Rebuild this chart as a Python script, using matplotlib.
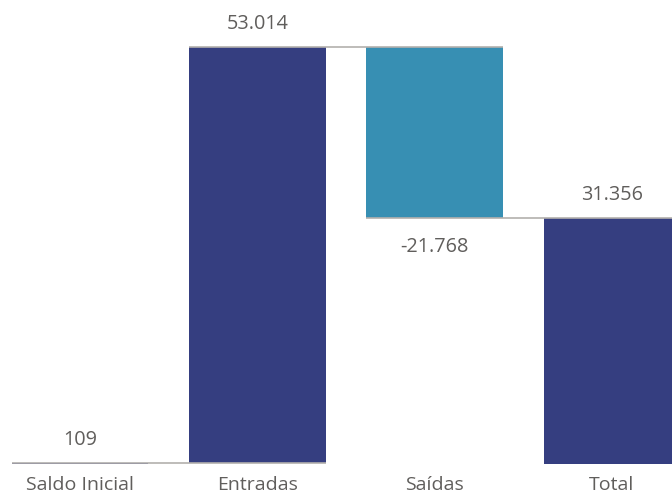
import matplotlib
matplotlib.use("Agg")
import matplotlib.pyplot as plt
import numpy as np

plt.rcParams["font.family"] = ["Open Sans", "DejaVu Sans"]

# dados
categorias = ["Saldo Inicial", "Entradas", "Saídas", "Total"]
valores = [109, 53014, -21768, 31356]
eh_total = [False, False, False, True]

C_NAVY = "#353E80"
C_TEAL = "#378FB3"
C_LINE = "#B3B0AD"
C_TEXT = "#605E5C"


def fmt(v):
    return f"{v:,.0f}".replace(",", ".")


# bases e alturas da cascata
bases, alturas, fim = [], [], []
acum = 0
for v, tot in zip(valores, eh_total):
    if tot:
        bases.append(0)
        alturas.append(v)
        acum = v
    else:
        bases.append(acum)
        alturas.append(v)
        acum += v
    fim.append(acum)

cores = [C_NAVY if (v >= 0) else C_TEAL for v in valores]

fig = plt.figure(figsize=(6.72, 4.96), dpi=100)
ax = fig.add_axes([0, 32 / 496, 1, 464 / 496])

x = np.arange(len(categorias))
w = 0.77
ax.bar(x, alturas, bottom=bases, width=w, color=cores, zorder=2)

# conectores
for i in range(len(categorias) - 1):
    ax.plot([x[i] - w / 2, x[i + 1] + w / 2], [fim[i], fim[i]],
            color=C_LINE, linewidth=1.2, zorder=3, solid_capstyle="butt")

# rótulos
for i, v in enumerate(valores):
    topo = bases[i] + alturas[i]
    if v >= 0:
        ax.annotate(fmt(v), (x[i], topo), xytext=(0, 16.5), textcoords="offset points",
                    ha="center", va="center", fontsize=14.3, color=C_TEXT)
    else:
        ax.annotate(fmt(v), (x[i], topo), xytext=(0, -21), textcoords="offset points",
                    ha="center", va="center", fontsize=14.3, color=C_TEXT)

ax.set_xlim(-80 / 177.3, (672 - 80) / 177.3)
ax.set_ylim(0, 53123 * 464 / 417)
ax.set_xticks(x)
ax.set_xticklabels(categorias, fontsize=14, color=C_TEXT)
ax.tick_params(axis="x", length=0, pad=8.5)
ax.set_yticks([])
for s in ax.spines.values():
    s.set_visible(False)

fig.savefig("out.png", dpi=100)
